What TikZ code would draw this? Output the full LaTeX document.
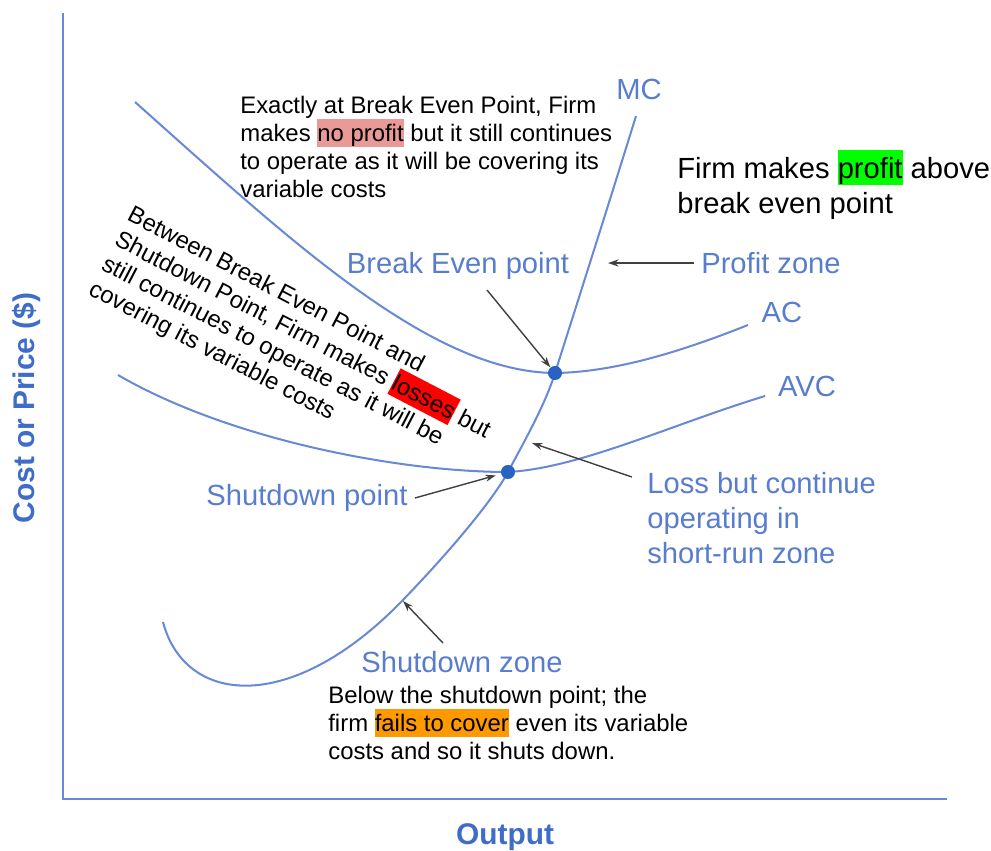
\documentclass[tikz,border=0pt]{standalone}
\usepackage{fontspec}
\setmainfont{Liberation Sans}
\usepackage{tikz}
\usetikzlibrary{arrows.meta}
\definecolor{curve blue}{RGB}{104,138,212}
\definecolor{label blue}{RGB}{88,124,206}
\definecolor{axis blue}{RGB}{62,108,200}
\definecolor{dot blue}{RGB}{42,98,196}
\definecolor{pointer gray}{RGB}{64,64,64}
\definecolor{light red}{RGB}{234,153,153}
\definecolor{bright green}{RGB}{0,255,0}
\definecolor{bright red}{RGB}{255,0,0}
\definecolor{bright orange}{RGB}{255,153,0}
\newcommand{\hilite}[2]{{\setlength{\fboxsep}{0pt}\colorbox{#1}{\rule[-0.24em]{0pt}{1.2em}#2}}}
\newcommand{\notefont}{\fontsize{13.6}{15.9}\selectfont\lineskiplimit=-20pt}
\newcommand{\bignotefont}{\fontsize{16.6}{19.8}\selectfont\lineskiplimit=-20pt}
\newcommand{\zonefont}{\fontsize{16.6}{19.8}\selectfont}
\newcommand{\axisfont}{\fontsize{17}{20}\selectfont\bfseries}

\begin{document}
\begin{tikzpicture}[x=0.02cm,y=-0.02cm,
		curve/.style={curve blue,line width=1.15pt},
		axis line/.style={curve blue,line width=1.3pt},
		zone label/.style={text=label blue,font=\zonefont,inner sep=4pt},
		note/.style={font=\notefont,align=left,inner sep=0pt,anchor=north west},
		pointer/.style={pointer gray,line width=0.8pt,-{Stealth[length=6pt,width=4pt]}},
		spot/.style={circle,fill=dot blue,inner sep=0pt,minimum size=8pt}]
			\useasboundingbox (0,0) rectangle (991,850);
			% axes
			\draw[axis line] (63,13) -- (63,799) -- (947,799);
			\node[font=\axisfont,text=axis blue,rotate=90] (costlabel) at (27,408) {Cost or Price (\$)};
			\node[font=\axisfont,text=axis blue] (outputlabel) at (505,837) {Output};
			% AC and AVC
			\draw[curve] (135,102) .. controls (290,240) and (430,372) .. (555,373)
				.. controls (620,372) and (690,348) .. (748,325);
			\draw[curve] (118,375) .. controls (230,440) and (400,472) .. (508,472)
				.. controls (580,468) and (670,425) .. (765,396);
			% MC
			\draw[curve] (163,622) .. controls (185,705) and (290,715) .. (400,603)
				.. controls (440,562) and (490,505) .. (508,472)
				.. controls (525,440) and (545,405) .. (555,373)
				.. controls (575,310) and (610,200) .. (636,116);
			\node[spot] (be) at (555,373) {};
			\node[spot] (sd) at (508,472) {};
			% curve and zone labels
			\node[zone label] (mclabel) at (639,89) {MC};
			\node[zone label] (aclabel) at (782,312) {AC};
			\node[zone label] (avclabel) at (807,386) {AVC};
			\node[zone label] (belabel) at (458,266) {Break Even point};
			\node[zone label] (pzlabel) at (771,263) {Profit zone};
			\node[zone label] (sdlabel) at (307,498) {Shutdown point};
			\node[zone label] (sdzlabel) at (462,662) {Shutdown zone};
			\node[zone label,align=left,inner sep=0pt,anchor=north west] (losslabel) at (647,472)
				{Loss but continue\\operating in\\short-run zone};
			% pointers
			\coordinate (pzhead) at (608,263);
			\coordinate (betail) at (487,290);
			\coordinate (losstail) at (632,477);
			\coordinate (losshead) at (532,443);
			\coordinate (sdztail) at (443,643);
			\coordinate (sdzhead) at (403,601);
			\draw[pointer] (pzlabel.west) -- (pzhead);
			\draw[pointer] (betail) -- (be);
			\draw[pointer,shorten >=3pt] (sdlabel.east) -- (sd);
			\draw[pointer] (losstail) -- (losshead);
			\draw[pointer] (sdztail) -- (sdzhead);
			% notes
			\node[note] (benote) at (240,96)
				{Exactly at Break Even Point, Firm\\makes \hilite{light red}{no profit} but it still continues\\to operate as it will be covering its\\variable costs};
			\node[note,font=\bignotefont] (profitnote) at (677,150)
				{Firm makes \hilite{bright green}{profit} above\\break even point};
			\node[note,rotate=-27.5] (lossnote) at (134,204)
				{Between Break Even Point and\\Shutdown Point, Firm makes \hilite{bright red}{losses} but\\still continues to operate as it will be\\covering its variable costs};
			\node[note] (sdnote) at (328,686)
				{Below the shutdown point; the\\firm \hilite{bright orange}{fails to cover} even its variable\\costs and so it shuts down.};
		\end{tikzpicture}
\end{document}
